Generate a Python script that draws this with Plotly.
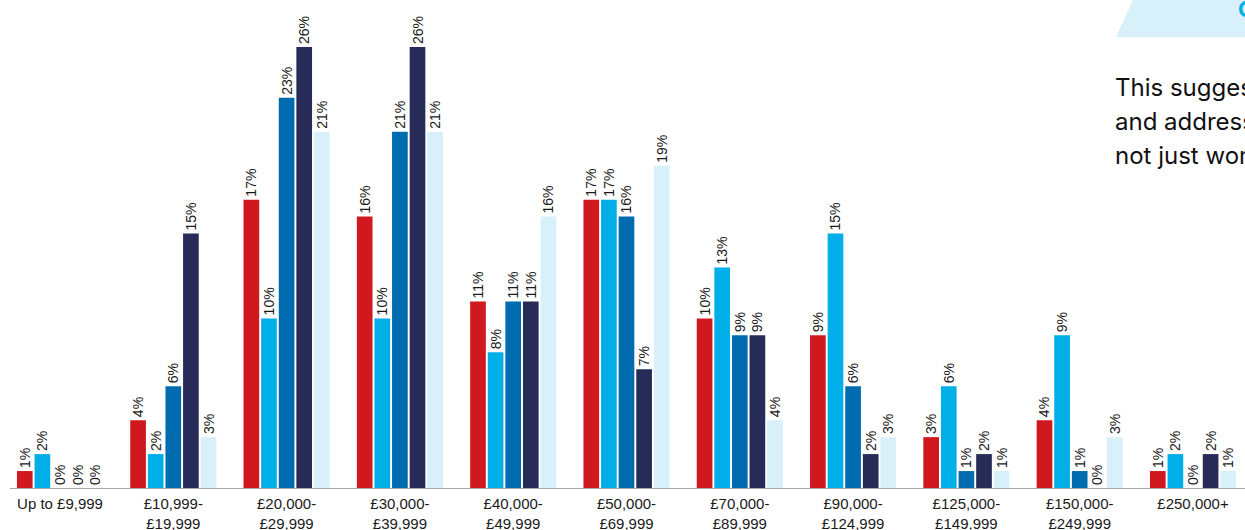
import plotly.graph_objects as go

categories = ["Up to £9,999", "£10,999-<br>£19,999", "£20,000-<br>£29,999", "£30,000-<br>£39,999",
              "£40,000-<br>£49,999", "£50,000-<br>£69,999", "£70,000-<br>£89,999", "£90,000-<br>£124,999",
              "£125,000-<br>£149,999", "£150,000-<br>£249,999", "£250,000+"]

series_a = [1, 4, 17, 16, 11, 17, 10, 9, 3, 4, 1]
series_b = [2, 2, 10, 10, 8, 17, 13, 15, 6, 9, 2]
series_c = [0, 6, 23, 21, 11, 16, 9, 6, 1, 1, 0]
series_d = [0, 15, 26, 26, 11, 7, 9, 2, 2, 0, 2]
series_e = [0, 3, 21, 21, 16, 19, 4, 3, 1, 3, 1]

series_names = ["Series A", "Series B", "Series C", "Series D", "Series E"]
colors = ["#d0181f", "#00aee8", "#006cb0", "#262c57", "#d7f0fa"]

fig = go.Figure()
for name, vals, col in zip(series_names, [series_a, series_b, series_c, series_d, series_e], colors):
    fig.add_trace(go.Bar(
        x=categories, y=vals, name=name, marker=dict(color=col, line=dict(width=0)),
        texttemplate="%{y}%", textposition="outside", textangle=-90,
        textfont=dict(family="Liberation Sans, Arial, sans-serif", size=14, color="#1a1a1a"),
        constraintext="none", cliponaxis=False,
    ))

W, H = 1245, 530
L, B = 10, 42
pw, ph = W - L, H - B

def px(x):
    return (x - L) / pw

def py(y):
    return (H - B - y) / ph

txt_font = dict(family="Inter, Roboto, sans-serif", size=24, color="#111111")

fig.update_layout(
    width=W, height=H,
    margin=dict(l=L, r=0, t=0, b=B, autoexpand=False),
    paper_bgcolor="white", plot_bgcolor="white",
    barmode="group", bargap=0.223, bargroupgap=0.11,
    showlegend=False,
    font=dict(family="Liberation Sans, Arial, sans-serif", size=14, color="#1a1a1a"),
    xaxis=dict(range=[-0.4413, 10.459], showline=True, linecolor="#a8a8a8", linewidth=1,
               ticks="", showgrid=False, ticklabelstandoff=2, automargin=False,
               tickfont=dict(size=15, color="#1a1a1a"), fixedrange=True),
    yaxis=dict(range=[0, 28.77], visible=False, showgrid=False, zeroline=False,
               automargin=False, fixedrange=True),
    shapes=[dict(type="path", xref="paper", yref="paper",
                 path=f"M {px(1116)} {py(37)} L {px(1133)} {py(0)} L {px(1260)} {py(0)} L {px(1260)} {py(37)} Z",
                 fillcolor="#d7f0fa", line=dict(width=0), layer="below")],
    annotations=[
        dict(xref="paper", yref="paper", x=px(1113), y=py(71), xanchor="left", yanchor="top",
             text="This suggests", showarrow=False, align="left", font=txt_font),
        dict(xref="paper", yref="paper", x=px(1113), y=py(105), xanchor="left", yanchor="top",
             text="and addresses", showarrow=False, align="left", font=txt_font),
        dict(xref="paper", yref="paper", x=px(1113), y=py(139), xanchor="left", yanchor="top",
             text="not just women", showarrow=False, align="left", font=txt_font),
        dict(xref="paper", yref="paper", x=px(1236), y=py(-6), xanchor="left", yanchor="top",
             text="<b>C</b>", showarrow=False,
             font=dict(family="Inter, Roboto, sans-serif", size=22, color="#00aee8")),
    ],
)

fig.write_html("out.html", config={"displayModeBar": False},
               post_script="document.body.style.margin='0';document.body.style.overflow='hidden';")
